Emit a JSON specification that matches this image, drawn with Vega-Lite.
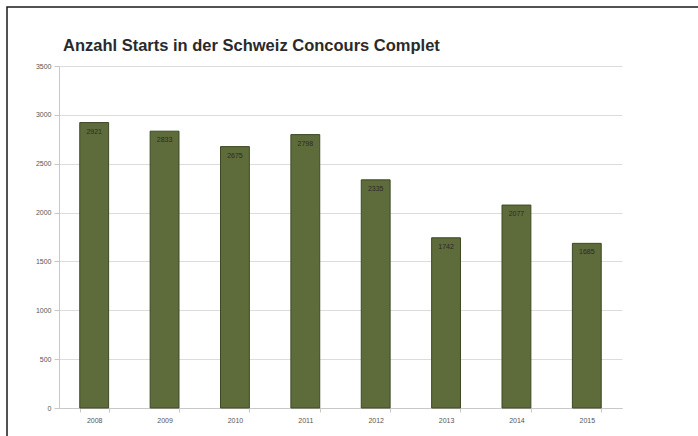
{
  "$schema": "https://vega.github.io/schema/vega-lite/v6.json",
  "autosize": "none",
  "padding": {"left": 7, "top": 7, "right": 0, "bottom": 0},
  "width": 700,
  "height": 431,
  "background": "white",
  "config": {
    "view": {"stroke": "#1a1a1a", "strokeWidth": 1.5},
    "font": "Liberation Sans"
  },
  "title": {
    "text": "Anzahl Starts in der Schweiz Concours Complet",
    "anchor": "start",
    "frame": "group",
    "orient": "top",
    "baseline": "alphabetic",
    "offset": -60,
    "dx": 56,
    "fontSize": 16.5,
    "fontWeight": "bold",
    "font": "Liberation Sans",
    "color": "#2a2a2a"
  },
  "data": {
    "values": [
      {"year": "2008", "starts": 2921},
      {"year": "2009", "starts": 2833},
      {"year": "2010", "starts": 2675},
      {"year": "2011", "starts": 2798},
      {"year": "2012", "starts": 2335},
      {"year": "2013", "starts": 1742},
      {"year": "2014", "starts": 2077},
      {"year": "2015", "starts": 1685}
    ]
  },
  "encoding": {
    "x": {
      "field": "year",
      "type": "ordinal",
      "scale": {"range": [52, 615], "paddingInner": 0.59, "paddingOuter": 0.295},
      "axis": {
        "title": null,
        "offset": -30,
        "labelAngle": 0,
        "labelFontSize": 7,
        "labelColor": "#555",
        "labelPadding": 4,
        "domainColor": "#c8c8c8",
        "tickColor": "#c8c8c8",
        "tickSize": 4,
        "tickBand": "extent",
        "grid": false
      }
    },
    "y": {
      "field": "starts",
      "type": "quantitative",
      "scale": {"domain": [0, 3500], "range": [401, 59], "nice": false, "zero": true},
      "axis": {
        "title": null,
        "offset": -52,
        "format": "d",
        "values": [0, 500, 1000, 1500, 2000, 2500, 3000, 3500],
        "grid": true,
        "gridColor": "#dcdcdc",
        "domainColor": "#c8c8c8",
        "tickColor": "#c8c8c8",
        "tickSize": 5,
        "labelFontSize": 7,
        "labelColor": "#555",
        "labelPadding": 3
      }
    }
  },
  "layer": [
    {
      "mark": {"type": "bar", "fill": "#5e6b3b", "stroke": "#3d4825", "strokeWidth": 1}
    },
    {
      "mark": {"type": "text", "baseline": "middle", "dy": 9, "fontSize": 7, "color": "#2a2a2a"},
      "encoding": {"text": {"field": "starts", "type": "quantitative", "format": "d"}}
    }
  ]
}
